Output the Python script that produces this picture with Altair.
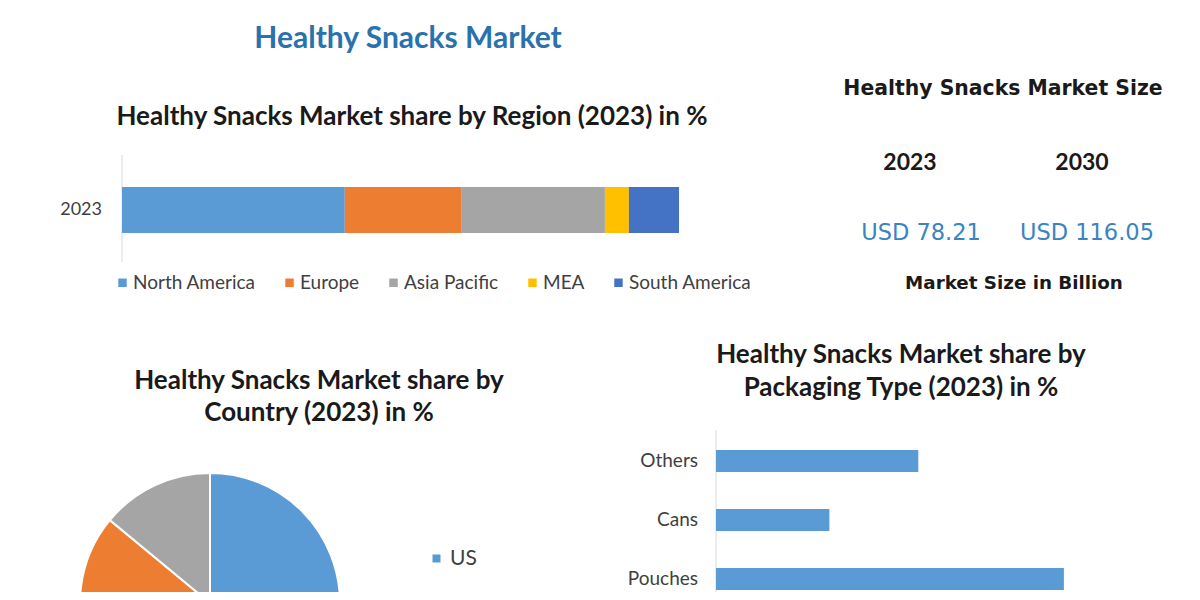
import altair as alt
import pandas as pd

# ---------------- data ----------------
main_title = "Healthy Snacks Market"

regions = ["North America", "Europe", "Asia Pacific", "MEA", "South America"]
region_share = [40.0, 21.0, 25.7, 4.3, 9.0]
region_colors = ["#5B9BD5", "#ED7D31", "#A5A5A5", "#FFC000", "#4472C4"]
region_year = "2023"

countries = ["US", "Canada", "Mexico"]
country_share = [50.0, 36.0, 14.0]
country_colors = ["#5B9BD5", "#ED7D31", "#A5A5A5"]

packaging = ["Others", "Cans", "Pouches"]
packaging_share = [28.9, 16.2, 49.7]

size_years = ["2023", "2030"]
size_values = ["USD 78.21", "USD 116.05"]

BODY = "Lato"
DARK = "#1a1a1a"
LABEL = "#404040"
BLUE_TXT = "#3a84c0"

one = alt.Data(values=[{}])


def txt(s, x, y, size, font=BODY, weight="bold", color=DARK):
    return alt.Chart(one).mark_text(
        text=s, font=font, fontSize=size, fontWeight=weight, color=color,
        align="center", baseline="middle"
    ).encode(x=alt.value(x), y=alt.value(y))


# ---------------- region stacked bar ----------------
reg_df = pd.DataFrame({"region": regions, "share": region_share,
                       "idx": list(range(len(regions))), "year": region_year})
reg_x = alt.Scale(domain=[0, 100], range=[114, 671], nice=False)
reg_y = alt.Scale(domain=[region_year], range=[179, 225], paddingInner=0, paddingOuter=0)

reg_bar = alt.Chart(reg_df).mark_bar().encode(
    x=alt.X("share:Q", stack="zero", scale=reg_x, axis=None),
    y=alt.Y("year:N", scale=reg_y, axis=None),
    color=alt.Color("region:N", scale=alt.Scale(domain=regions, range=region_colors),
                    legend=alt.Legend(orient="none", legendX=105, legendY=265,
                                      direction="horizontal", title=None,
                                      symbolType="square", symbolSize=72,
                                      symbolStrokeWidth=0, labelFont=BODY,
                                      labelFontSize=19, labelColor=LABEL,
                                      columnPadding=24, labelOffset=1)),
    order=alt.Order("idx:Q"),
)
reg_axis = alt.Chart(reg_df.head(1)).mark_rule(color="#d9d9d9", strokeWidth=1).encode(
    x=alt.X(datum=0, scale=reg_x, axis=None),
    y=alt.value(147), y2=alt.value(254),
)
reg_lab = alt.Chart(reg_df.head(1)).mark_text(
    align="right", baseline="middle", dx=-20, font=BODY, fontSize=18, color=LABEL
).encode(
    x=alt.X(datum=0, scale=reg_x, axis=None),
    y=alt.Y("year:N", scale=reg_y, axis=None),
    text="year:N",
)
region_chart = alt.layer(reg_axis, reg_bar, reg_lab)

# ---------------- country pie ----------------
pie_df = pd.DataFrame({"country": countries, "share": country_share,
                       "idx": list(range(len(countries)))})
pie = alt.Chart(pie_df).mark_arc(outerRadius=130, stroke="white", strokeWidth=2, clip=True).encode(
    theta=alt.Theta("share:Q", stack=True),
    color=alt.Color("country:N", scale=alt.Scale(domain=countries, range=country_colors),
                    legend=alt.Legend(orient="none", legendX=418, legendY=540,
                                      direction="vertical", title=None, values=["US"],
                                      symbolType="square", symbolSize=64,
                                      symbolStrokeWidth=0, labelFont=BODY,
                                      labelFontSize=21, labelColor=LABEL,
                                      labelOffset=3)),
    order=alt.Order("idx:Q"),
    x=alt.value(202), y=alt.value(595),
)

# ---------------- packaging bars ----------------
pk_df = pd.DataFrame({"type": packaging, "share": packaging_share})
pk_x = alt.Scale(domain=[0, 60], range=[708, 1128], nice=False)
pk_y = alt.Scale(domain=packaging, range=[423.5, 600.5], paddingInner=0.63, paddingOuter=0.315)
pk_bar = alt.Chart(pk_df).mark_bar(color="#5B9BD5").encode(
    x=alt.X("share:Q", scale=pk_x, axis=None),
    y=alt.Y("type:N", scale=pk_y, axis=None),
)
pk_axis = alt.Chart(pk_df.head(1)).mark_rule(color="#d9d9d9", strokeWidth=1).encode(
    x=alt.X(datum=0, scale=pk_x, axis=None),
    y=alt.value(422), y2=alt.value(584),
)
pk_lab = alt.Chart(pk_df).mark_text(
    align="right", baseline="middle", dx=-18, font=BODY, fontSize=19, color=LABEL
).encode(
    x=alt.X(datum=0, scale=pk_x, axis=None),
    y=alt.Y("type:N", scale=pk_y, axis=None),
    text="type:N",
)
pack_chart = alt.layer(pk_axis, pk_bar, pk_lab)

# ---------------- market size text block ----------------
size_df = pd.DataFrame({"year": size_years, "value": size_values})
yr_text = alt.Chart(size_df).mark_text(
    font=BODY, fontSize=23, fontWeight="bold", color=DARK, baseline="middle"
).encode(
    x=alt.X("year:N", scale=alt.Scale(type="point", domain=size_years, range=[902, 1074], padding=0), axis=None),
    y=alt.value(155),
    text="year:N",
)
val_text = alt.Chart(size_df).mark_text(
    font="DejaVu Sans", fontSize=22.5, color=BLUE_TXT, baseline="middle"
).encode(
    x=alt.X("year:N", scale=alt.Scale(type="point", domain=size_years, range=[913, 1079], padding=0), axis=None),
    y=alt.value(225),
    text="value:N",
)

layers = [
    txt(main_title, 400, 31, 30, color="#2a72ac"),
    txt("Healthy Snacks Market share by Region (2023) in %", 404, 109, 26),
    region_chart,
    txt("Healthy Snacks Market Size", 995, 81, 20.4, font="DejaVu Sans"),
    yr_text,
    val_text,
    txt("Market Size in Billion", 1006, 276, 18.3, font="DejaVu Sans"),
    txt("Healthy Snacks Market share by", 311, 373, 26),
    txt("Country (2023) in %", 311, 405, 26),
    pie,
    txt("Healthy Snacks Market share by", 893, 347, 26),
    txt("Packaging Type (2023) in %", 893, 380, 26),
    pack_chart,
]

chart = alt.layer(*layers).resolve_scale(
    x="independent", y="independent", color="independent"
).properties(
    width=1184, height=584, padding=0, autosize="none", background="white"
).configure_view(stroke=None)

chart.save("out.html", embed_options={"renderer": "svg", "actions": False})
